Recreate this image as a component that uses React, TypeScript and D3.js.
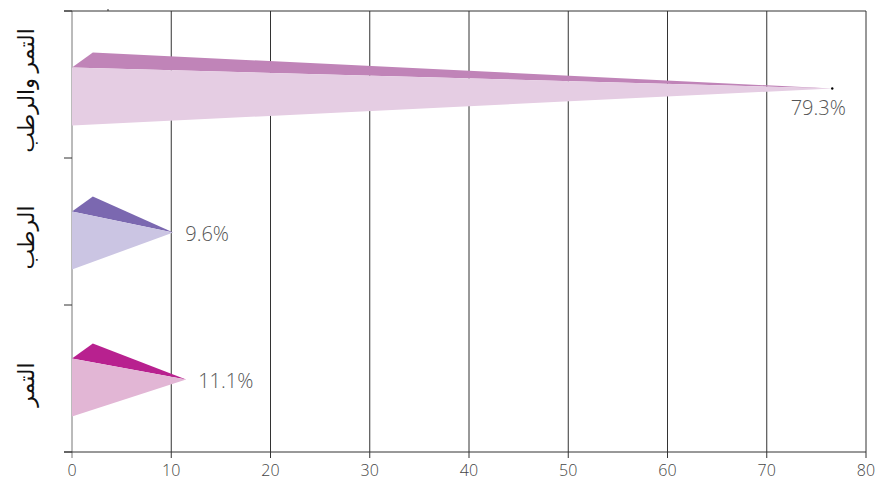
import React from "react";
import * as d3 from "d3";

const categories = ["التمر والرطب", "الرطب", "التمر"];
const valueLabels = ["79.3%", "9.6%", "11.1%"];
const barLengths = [76.6, 10.2, 11.5];
const topColors = ["#c084b8", "#7b68b0", "#b8218f"];
const frontColors = ["#e5cde3", "#cbc5e3", "#e2b6d5"];
const xTicks = [0, 10, 20, 30, 40, 50, 60, 70, 80];

const W = 882, H = 480;
const left = 72, right = 866, top = 11, bottom = 452;

export default function App() {
  const x = d3.scaleLinear().domain([0, 80]).range([left, right]);
  const y = d3.scaleBand().domain(categories).range([top, bottom]);
  const bw = y.bandwidth();
  return (
    <svg width={W} height={H} style={{ position: "absolute", left: 0, top: 0 }}>
      {xTicks.map((t) => (
        <g key={t}>
          <line x1={x(t)} x2={x(t)} y1={top} y2={bottom + 6} stroke={t === 0 ? "#777" : "#333"} strokeWidth={1} />
          <text x={x(t)} y={476} textAnchor="middle" fontFamily="Open Sans, sans-serif" fontWeight={300} fontSize={16} fill="#444">{t}</text>
        </g>
      ))}
      <line x1={64} x2={right} y1={top} y2={top} stroke="#333" />
      <line x1={64} x2={right} y1={bottom} y2={bottom} stroke="#333" />
      <line x1={108} x2={108} y1={top - 2} y2={top} stroke="#333" />
      {[0, 1, 2, 3].map((i) => (
        <line key={i} x1={64} x2={left} y1={top + i * bw} y2={top + i * bw} stroke="#333" />
      ))}
      {categories.map((c, i) => {
        const y0 = y(c)!;
        const cy = y0 + bw / 2 + (i === 0 ? 3 : 0);
        const ft = cy - 20;
        const fb = cy + 38;
        const ty = cy + 1;
        const tx = x(barLengths[i]);
        const ax = x(2.1);
        const ay = cy - 35;
        const path = d3.path();
        path.moveTo(x(0), ft);
        path.lineTo(ax, ay);
        path.lineTo(tx, ty);
        path.closePath();
        const front = d3.path();
        front.moveTo(x(0), ft);
        front.lineTo(tx, ty);
        front.lineTo(x(0), fb);
        front.closePath();
        return (
          <g key={c}>
            <path d={path.toString()} fill={topColors[i]} />
            <path d={front.toString()} fill={frontColors[i]} />
            {i === 0 ? (
              <>
                <circle cx={tx} cy={ty} r={1.2} fill="#000" />
                <text x={tx - 14} y={ty + 26} textAnchor="middle" fontFamily="Open Sans, sans-serif" fontWeight={300} fontSize={20} fill="#555">{valueLabels[i]}</text>
              </>
            ) : (
              <text x={tx + 12} y={ty + 8} fontFamily="Open Sans, sans-serif" fontWeight={300} fontSize={20} fill="#555">{valueLabels[i]}</text>
            )}
            <text transform={`translate(34,${y0 + bw / 2 + 6}) rotate(-90)`} textAnchor="middle" fontFamily="Noto Sans, DejaVu Sans, sans-serif" fontSize={22} fill="#111">{c}</text>
          </g>
        );
      })}
    </svg>
  );
}
